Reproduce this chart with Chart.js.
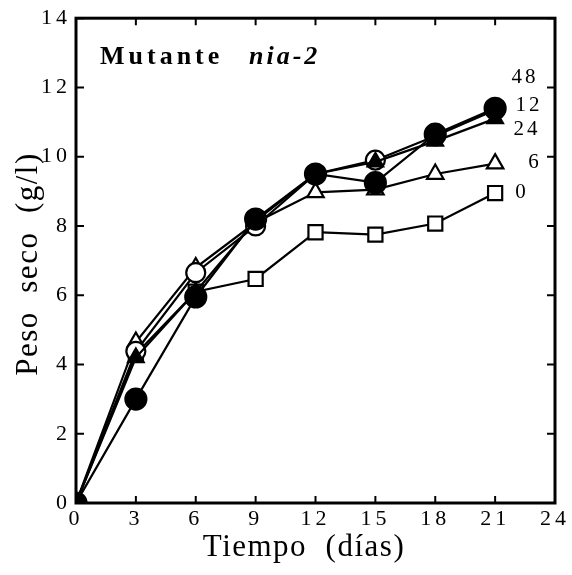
<!DOCTYPE html>
<html>
<head>
<meta charset="utf-8">
<script src="https://cdn.jsdelivr.net/npm/chart.js@4.4.1/dist/chart.umd.min.js"></script>
<style>
  html, body { margin: 0; padding: 0; background: #fff; }
  #wrap { width: 572px; height: 575px; }
</style>
</head>
<body>
<div id="wrap"><canvas id="c" width="572" height="575"></canvas></div>
<script>
// Growth of the nia-2 mutant: dry weight (g/l) against time (days)
const dias = [0, 3, 6, 9, 12, 15, 18, 21];
const serieLabels = ['0', '6', '12', '24', '48'];
const peso0  = [0, 4.30, 6.10, 6.47, 7.82, 7.75, 8.07, 8.95];
const peso6  = [0, 4.65, 6.80, 8.10, 8.97, 9.05, 9.50, 9.80];
const peso12 = [0, 3.00, 5.95, 8.20, 9.50, 9.25, 10.65, 11.40];
const peso24 = [0, 4.20, 6.10, 8.15, 9.50, 9.85, 10.45, 11.10];
const peso48 = [0, 4.38, 6.65, 8.00, 9.50, 9.90, 10.60, 11.35];
const xTicks = [0, 3, 6, 9, 12, 15, 18, 21, 24];
const yTicks = [0, 2, 4, 6, 8, 10, 12, 14];
// where each curve's name sits, in data units
const etiquetas = [
  { text: '48', x: 22.5, y: 12.3 },
  { text: '12', x: 22.7, y: 11.47 },
  { text: '24', x: 22.6, y: 10.8 },
  { text: '6',  x: 23.0, y: 9.82 },
  { text: '0',  x: 22.35, y: 8.97 }
];

const SERIF = '"Liberation Serif", "Times New Roman", serif';

function pts(vals) { return dias.map((d, i) => ({ x: d, y: vals[i] })); }

function serie(label, vals, style, filled, radius, order) {
  return {
    label: label,
    data: pts(vals),
    borderColor: '#000',
    borderWidth: 2.2,
    pointStyle: style,
    pointRadius: radius,
    pointHoverRadius: radius,
    pointBorderWidth: 2.2,
    pointBorderColor: '#000',
    pointBackgroundColor: filled ? '#000' : '#fff',
    fill: false,
    tension: 0,
    order: order
  };
}

const framePlugin = {
  id: 'frame',
  beforeDraw(chart) {
    chart.ctx.letterSpacing = '4px';
  },
  beforeDatasetsDraw(chart) {
    chart.ctx.letterSpacing = '0px';
  },
  afterDatasetsDraw(chart) {
    const { ctx, chartArea: a, scales } = chart;
    ctx.save();
    ctx.strokeStyle = '#000';
    // inward tick marks on all four sides
    ctx.lineWidth = 2;
    ctx.beginPath();
    xTicks.forEach(v => {
      const px = scales.x.getPixelForValue(v);
      ctx.moveTo(px, a.bottom); ctx.lineTo(px, a.bottom - 7);
      ctx.moveTo(px, a.top); ctx.lineTo(px, a.top + 7);
    });
    yTicks.forEach(v => {
      const py = scales.y.getPixelForValue(v);
      ctx.moveTo(a.left, py); ctx.lineTo(a.left + 8, py);
      ctx.moveTo(a.right, py); ctx.lineTo(a.right - 8, py);
    });
    ctx.stroke();
    // frame
    ctx.lineWidth = 3;
    ctx.strokeRect(a.left, a.top, a.right - a.left, a.bottom - a.top);

    // curve names at the right end
    ctx.fillStyle = '#000';
    ctx.font = '21px ' + SERIF;
    ctx.letterSpacing = '3px';
    ctx.textAlign = 'center';
    ctx.textBaseline = 'middle';
    etiquetas.forEach(e => {
      ctx.fillText(e.text, scales.x.getPixelForValue(e.x), scales.y.getPixelForValue(e.y));
    });

    // panel title
    ctx.textAlign = 'left';
    ctx.textBaseline = 'alphabetic';
    ctx.letterSpacing = '4px';
    ctx.font = 'bold 26px ' + SERIF;
    ctx.fillText('Mutante', 100, 64);
    ctx.letterSpacing = '3px';
    ctx.font = 'italic bold 26px ' + SERIF;
    ctx.fillText('nia-2', 249, 64);

    // axis titles
    ctx.letterSpacing = '1.5px';
    ctx.font = '31px ' + SERIF;
    ctx.textAlign = 'center';
    ctx.textBaseline = 'middle';
    ctx.fillText('Tiempo  (días)', 304, 548);
    ctx.save();
    ctx.translate(29, 264);
    ctx.rotate(-Math.PI / 2);
    ctx.fillText('Peso  seco  (g/l)', 0, 0);
    ctx.restore();
    ctx.restore();
  }
};

new Chart(document.getElementById('c'), {
  type: 'line',
  data: {
    datasets: [
      serie(serieLabels[3], peso24, 'triangle', true, 9, 0),
      serie(serieLabels[2], peso12, 'circle', true, 10.5, 1),
      serie(serieLabels[4], peso48, 'circle', false, 9.5, 2),
      serie(serieLabels[1], peso6, 'triangle', false, 9.5, 3),
      serie(serieLabels[0], peso0, 'rect', false, 10, 4)
    ]
  },
  options: {
    responsive: false,
    animation: false,
    events: [],
    layout: { padding: { top: 15, right: 17, left: 0, bottom: 0 } },
    plugins: { legend: { display: false }, tooltip: { enabled: false } },
    scales: {
      x: {
        type: 'linear',
        min: 0, max: 24,
        afterFit(s) { s.height = 72; },
        afterBuildTicks(s) { s.ticks = xTicks.map(v => ({ value: v })); },
        grid: { display: false, drawTicks: false },
        border: { display: false },
        ticks: { color: '#000', font: { family: SERIF, size: 22 }, padding: 3, maxRotation: 0, autoSkip: false }
      },
      y: {
        min: 0, max: 14,
        afterFit(s) { s.width = 76; },
        afterBuildTicks(s) { s.ticks = yTicks.map(v => ({ value: v })); },
        grid: { display: false, drawTicks: false },
        border: { display: false },
        ticks: { color: '#000', font: { family: SERIF, size: 22 }, padding: 5, autoSkip: false }
      }
    }
  },
  plugins: [framePlugin]
});
</script>
</body>
</html>
